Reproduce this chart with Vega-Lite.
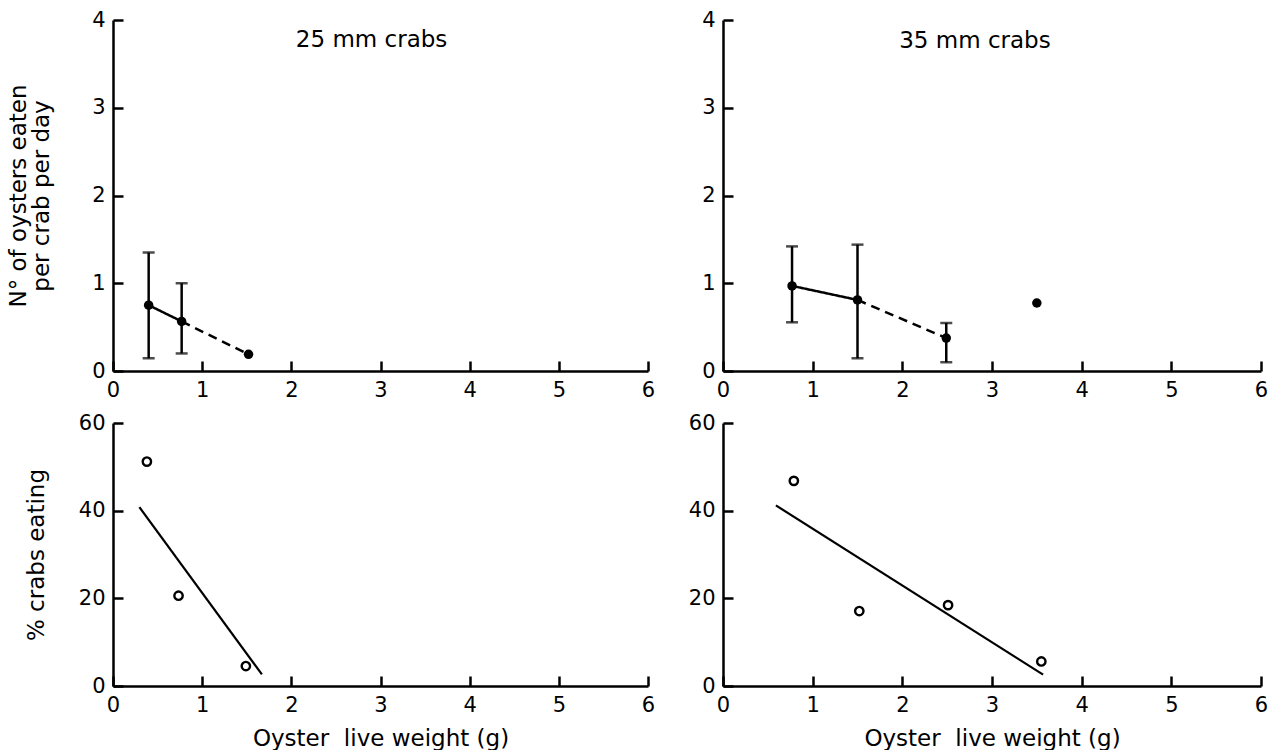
{
  "$schema": "https://vega.github.io/schema/vega-lite/v6.json",
  "background": "white",
  "padding": {"left": 7, "top": 9, "right": 5, "bottom": 0},
  "config": {
    "view": {"stroke": null},
    "font": "DejaVu Sans",
    "axis": {"domainColor": "black", "domainWidth": 2.5, "tickColor": "black", "tickWidth": 2.5, "tickSize": -10, "labelColor": "black", "labelFontSize": 21, "labelFont": "DejaVu Sans", "titleColor": "black", "titleFontSize": 23, "titleFont": "DejaVu Sans", "titleFontWeight": "normal", "grid": false, "labelFlush": false, "labelOverlap": false},
    "axisY": {"labelPadding": 18},
    "axisX": {"labelPadding": 18}
  },
  "datasets": {
    "tl": [
      {"w": 0.40, "n": 0.75, "lo": 0.145, "hi": 1.35},
      {"w": 0.77, "n": 0.565, "lo": 0.20, "hi": 1.0},
      {"w": 1.52, "n": 0.19, "lo": null, "hi": null}
    ],
    "tl_seg": [
      {"w": 0.40, "n": 0.75, "seg": "solid"},
      {"w": 0.77, "n": 0.565, "seg": "solid"},
      {"w": 0.77, "n": 0.565, "seg": "dashed"},
      {"w": 1.52, "n": 0.19, "seg": "dashed"}
    ],
    "tl_label": [{"w": 2.9, "n": 3.69, "label": "25 mm  crabs"}],
    "tr": [
      {"w": 0.77, "n": 0.97, "lo": 0.555, "hi": 1.42},
      {"w": 1.50, "n": 0.81, "lo": 0.145, "hi": 1.44},
      {"w": 2.49, "n": 0.375, "lo": 0.10, "hi": 0.547},
      {"w": 3.50, "n": 0.775, "lo": null, "hi": null}
    ],
    "tr_seg": [
      {"w": 0.77, "n": 0.97, "seg": "solid"},
      {"w": 1.50, "n": 0.81, "seg": "solid"},
      {"w": 1.50, "n": 0.81, "seg": "dashed"},
      {"w": 2.49, "n": 0.375, "seg": "dashed"}
    ],
    "tr_label": [{"w": 2.81, "n": 3.68, "label": "35 mm  crabs"}],
    "bl": [
      {"w": 0.38, "p": 51.2},
      {"w": 0.735, "p": 20.6},
      {"w": 1.49, "p": 4.55}
    ],
    "bl_line": [
      {"w": 0.296, "p": 40.8},
      {"w": 1.67, "p": 2.66}
    ],
    "br": [
      {"w": 0.79, "p": 46.8},
      {"w": 1.52, "p": 17.1},
      {"w": 2.51, "p": 18.45},
      {"w": 3.55, "p": 5.6}
    ],
    "br_line": [
      {"w": 0.59, "p": 41.2},
      {"w": 3.57, "p": 2.6}
    ]
  },
  "columns": 2,
  "spacing": {"row": 52, "column": 75},
  "bounds": "flush",
  "concat": [
    {
      "width": 535, "height": 351,
      "encoding": {
        "x": {"field": "w", "type": "quantitative", "scale": {"domain": [0, 6], "nice": false, "zero": false}, "axis": {"values": [0, 1, 2, 3, 4, 5, 6], "title": null}},
        "y": {"field": "n", "type": "quantitative", "scale": {"domain": [0, 4], "nice": false}, "axis": {"values": [0, 1, 2, 3, 4], "title": ["N° of oysters eaten", "per crab per day"], "titlePadding": 38, "titleLineHeight": 23}}
      },
      "layer": [
        {"data": {"name": "tl_seg"}, "mark": {"type": "line", "color": "black", "strokeWidth": 2.5},
         "encoding": {
           "detail": {"field": "seg"},
           "strokeDash": {"field": "seg", "type": "nominal", "scale": {"domain": ["solid", "dashed"], "range": [[1, 0], [9, 6]]}, "legend": null}}},
        {"data": {"name": "tl"}, "mark": {"type": "rule", "color": "black", "strokeWidth": 2.5},
         "encoding": {"y": {"field": "lo", "type": "quantitative", "axis": {"values": [0, 1, 2, 3, 4], "title": ["N° of oysters eaten", "per crab per day"], "titlePadding": 38, "titleLineHeight": 23}}, "y2": {"field": "hi"}}},
        {"data": {"name": "tl"}, "mark": {"type": "tick", "orient": "horizontal", "color": "black", "size": 12, "thickness": 2.5},
         "encoding": {"y": {"field": "lo", "type": "quantitative", "axis": {"values": [0, 1, 2, 3, 4], "title": ["N° of oysters eaten", "per crab per day"], "titlePadding": 38, "titleLineHeight": 23}}}},
        {"data": {"name": "tl"}, "mark": {"type": "tick", "orient": "horizontal", "color": "black", "size": 12, "thickness": 2.5},
         "encoding": {"y": {"field": "hi", "type": "quantitative", "axis": {"values": [0, 1, 2, 3, 4], "title": ["N° of oysters eaten", "per crab per day"], "titlePadding": 38, "titleLineHeight": 23}}}},
        {"data": {"name": "tl"}, "mark": {"type": "circle", "color": "black", "size": 90, "opacity": 1}},
        {"data": {"name": "tl_label"}, "mark": {"type": "text", "color": "black", "fontSize": 23, "font": "DejaVu Sans", "align": "center", "baseline": "alphabetic"},
         "encoding": {"text": {"field": "label"}}}
      ]
    },
    {
      "width": 538, "height": 351,
      "encoding": {
        "x": {"field": "w", "type": "quantitative", "scale": {"domain": [0, 6], "nice": false, "zero": false}, "axis": {"values": [0, 1, 2, 3, 4, 5, 6], "title": null}},
        "y": {"field": "n", "type": "quantitative", "scale": {"domain": [0, 4], "nice": false}, "axis": {"values": [0, 1, 2, 3, 4], "title": null}}
      },
      "layer": [
        {"data": {"name": "tr_seg"}, "mark": {"type": "line", "color": "black", "strokeWidth": 2.5},
         "encoding": {
           "detail": {"field": "seg"},
           "strokeDash": {"field": "seg", "type": "nominal", "scale": {"domain": ["solid", "dashed"], "range": [[1, 0], [9, 6]]}, "legend": null}}},
        {"data": {"name": "tr"}, "mark": {"type": "rule", "color": "black", "strokeWidth": 2.5},
         "encoding": {"y": {"field": "lo", "type": "quantitative", "axis": {"values": [0, 1, 2, 3, 4], "title": null}}, "y2": {"field": "hi"}}},
        {"data": {"name": "tr"}, "mark": {"type": "tick", "orient": "horizontal", "color": "black", "size": 12, "thickness": 2.5},
         "encoding": {"y": {"field": "lo", "type": "quantitative", "axis": {"values": [0, 1, 2, 3, 4], "title": null}}}},
        {"data": {"name": "tr"}, "mark": {"type": "tick", "orient": "horizontal", "color": "black", "size": 12, "thickness": 2.5},
         "encoding": {"y": {"field": "hi", "type": "quantitative", "axis": {"values": [0, 1, 2, 3, 4], "title": null}}}},
        {"data": {"name": "tr"}, "mark": {"type": "circle", "color": "black", "size": 90, "opacity": 1}},
        {"data": {"name": "tr_label"}, "mark": {"type": "text", "color": "black", "fontSize": 23, "font": "DejaVu Sans", "align": "center", "baseline": "alphabetic"},
         "encoding": {"text": {"field": "label"}}}
      ]
    },
    {
      "width": 535, "height": 263,
      "encoding": {
        "x": {"field": "w", "type": "quantitative", "scale": {"domain": [0, 6], "nice": false, "zero": false}, "axis": {"values": [0, 1, 2, 3, 4, 5, 6], "title": "Oyster\u00a0 live weight (g)", "titlePadding": 12}},
        "y": {"field": "p", "type": "quantitative", "scale": {"domain": [0, 60], "nice": false}, "axis": {"values": [0, 20, 40, 60], "title": "% crabs eating", "titlePadding": 30}}
      },
      "layer": [
        {"data": {"name": "bl_line"}, "mark": {"type": "line", "color": "black", "strokeWidth": 2.2}},
        {"data": {"name": "bl"}, "mark": {"type": "point", "shape": "circle", "color": "black", "filled": false, "size": 70, "strokeWidth": 2.4, "opacity": 1}}
      ]
    },
    {
      "width": 538, "height": 263,
      "encoding": {
        "x": {"field": "w", "type": "quantitative", "scale": {"domain": [0, 6], "nice": false, "zero": false}, "axis": {"values": [0, 1, 2, 3, 4, 5, 6], "title": "Oyster\u00a0 live weight (g)", "titlePadding": 12}},
        "y": {"field": "p", "type": "quantitative", "scale": {"domain": [0, 60], "nice": false}, "axis": {"values": [0, 20, 40, 60], "title": null}}
      },
      "layer": [
        {"data": {"name": "br_line"}, "mark": {"type": "line", "color": "black", "strokeWidth": 2.2}},
        {"data": {"name": "br"}, "mark": {"type": "point", "shape": "circle", "color": "black", "filled": false, "size": 70, "strokeWidth": 2.4, "opacity": 1}}
      ]
    }
  ]
}
